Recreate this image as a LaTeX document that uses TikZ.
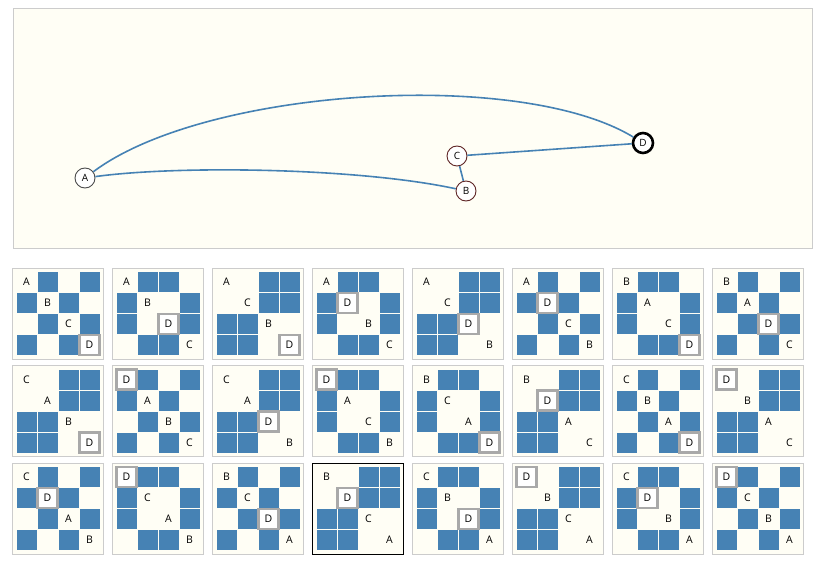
\documentclass[tikz,border=0pt]{standalone}
\usepackage{fontspec}
\setmainfont{Open Sans}
\usepackage{xcolor}
\definecolor{cream}{HTML}{FFFEF5}
\definecolor{steel}{HTML}{4682B4}
\definecolor{frame}{HTML}{CCCCCC}
\definecolor{hilite}{HTML}{A9A9A9}
\definecolor{rim}{HTML}{5E2424}
\newcommand{\letter}[1]{\ifcase#1\or A\or B\or C\or D\fi}
\tikzset{
vertex/.style={circle, draw, fill=white, minimum size=20pt, inner sep=0pt, line width=0.9pt, font=\fontsize{10}{12}\selectfont},
link/.style={steel, line width=1.6pt},
tag/.style={inner sep=0pt, font=\fontsize{10.5}{12}\selectfont}
}

\begin{document}
\begin{tikzpicture}[x=1pt,y=-1pt]
\useasboundingbox (0,0) rectangle (821,561);
% graph panel
\draw[frame, fill=cream] (13,8.5) rectangle (812,248.5);
\node[vertex, draw=black!70] (A) at (85,178) {A};
\node[vertex, draw=rim] (B) at (466,191) {B};
\node[vertex, draw=rim] (C) at (457,156) {C};
\node[vertex, draw=black, line width=2.6pt] (D) at (643,143) {D};
\draw[link] (A) .. controls (205,88) and (520,68) .. (D);
\draw[link] (A) .. controls (180,165) and (360,168) .. (B);
\draw[link] (C) -- (B);
\draw[link] (C) -- (D);
% one matrix per ordering
\foreach \perm [count=\n from 0] in {{1,2,3,4},{1,2,4,3},{1,3,2,4},{1,4,2,3},{1,3,4,2},{1,4,3,2},{2,1,3,4},{2,1,4,3},
{3,1,2,4},{4,1,2,3},{3,1,4,2},{4,1,3,2},{2,3,1,4},{2,4,1,3},{3,2,1,4},{4,2,1,3},
{3,4,1,2},{4,3,1,2},{2,3,4,1},{2,4,3,1},{3,2,4,1},{4,2,3,1},{3,4,2,1},{4,3,2,1}}{
\pgfmathsetmacro{\bx}{12.5+100*mod(\n,8)}
\pgfmathsetmacro{\by}{268+97.5*div(\n,8)}
\ifnum\n=19 \def\boxcol{black}\else\def\boxcol{frame}\fi
\draw[\boxcol, fill=cream] (\bx,\by) rectangle ++(91,91);
\foreach \a [count=\i from 0] in \perm{
\foreach \b [count=\j from 0] in \perm{
\pgfmathtruncatemacro{\odd}{mod(\a+\b,2)}
\ifnum\odd=1
\fill[steel] (\bx+4+21*\j,\by+4+21*\i) rectangle ++(20,20);
\fi
}
\ifnum\a=4
\draw[hilite, line width=2.5pt, fill=white] (\bx+4+21*\i,\by+4+21*\i) rectangle ++(20,20);
\fi
\node[tag] (m\n-\i) at (\bx+14+21*\i,\by+14+21*\i) {\letter{\a}};
}
}
\end{tikzpicture}
\end{document}
